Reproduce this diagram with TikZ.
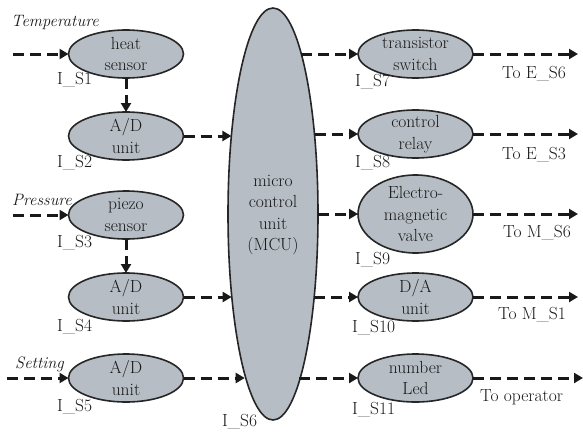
\documentclass[tikz,border=0pt]{standalone}
\usepackage{fontspec}
\usetikzlibrary{arrows.meta,shapes.geometric}
\definecolor{fillg}{RGB}{182,189,196}
\definecolor{txt}{RGB}{25,25,25}
\begin{document}
\begin{tikzpicture}[x=1pt,y=-1pt,
  unitbox/.style={ellipse,draw=black!85,line width=1.6pt,fill=fillg,minimum width=115pt,minimum height=48pt,inner sep=0pt,outer sep=0pt},
  intext/.style={align=center,font=\rmfamily\fontsize{17.5}{21.5}\selectfont,text=txt,inner sep=0pt},
  idlbl/.style={anchor=west,font=\rmfamily\fontsize{17.5}{21.5}\selectfont,text=txt,inner sep=0pt},
  sig/.style={font=\rmfamily\itshape\fontsize{16.5}{20}\selectfont,text=txt,anchor=west,inner sep=0pt},
  flow/.style={draw=black!90,line width=3pt,dash pattern=on 11pt off 6pt,-{Triangle[length=9pt,width=10pt]}},
]
\useasboundingbox (0,0) rectangle (583,431);

% MCU
\node[ellipse,draw=black!85,line width=1.6pt,fill=fillg,minimum width=90pt,minimum height=412pt,inner sep=0pt,outer sep=0pt] (mcu) at (273,214) {};
\node[intext,align=center] (mcut) at (273,215) {micro\\control\\unit\\(MCU)};

% left column
\node[unitbox] (s1) at (126,54) {};
\node[intext] (s1t) at (s1) {heat\\sensor};
\node[unitbox] (s2) at (126,136) {};
\node[intext] (s2t) at (s2) {A/D\\unit};
\node[unitbox] (s3) at (126,215) {};
\node[intext] (s3t) at (s3) {piezo\\sensor};
\node[unitbox] (s4) at (126,297) {};
\node[intext] (s4t) at (s4) {A/D\\unit};
\node[unitbox] (s5) at (126,378) {};
\node[intext] (s5t) at (s5) {A/D\\unit};

% right column
\node[unitbox] (s7) at (415.5,54) {};
\node[intext] (s7t) at (s7) {transistor\\switch};
\node[unitbox] (s8) at (415.5,134) {};
\node[intext] (s8t) at (s8) {control\\relay};
\node[unitbox,minimum height=78pt] (s9) at (415.5,214) {};
\node[intext] (s9t) at (s9) {Electro-\\magnetic\\valve};
\node[unitbox] (s10) at (415.5,297) {};
\node[intext] (s10t) at (s10) {D/A\\unit};
\node[unitbox] (s11) at (415.5,378) {};
\node[intext] (s11t) at (s11) {number\\Led};

% signal labels
\node[sig] (lt) at (11,23) {Temperature};
\node[sig] (lp) at (12,200) {Pressure};
\node[sig] (ls) at (15,364) {Setting};

% id labels
\node[idlbl] (l1) at (57,80) {I\_S1};
\node[idlbl] (l2) at (57,163) {I\_S2};
\node[idlbl] (l3) at (57,243) {I\_S3};
\node[idlbl] (l4) at (57,327) {I\_S4};
\node[idlbl] (l5) at (57,407) {I\_S5};
\node[idlbl] (l6) at (222,422) {I\_S6};
\node[idlbl] (l7) at (355,82) {I\_S7};
\node[idlbl] (l8) at (355,163) {I\_S8};
\node[idlbl] (l9) at (355,260) {I\_S9};
\node[idlbl] (l10) at (352,328) {I\_S10};
\node[idlbl] (l11) at (352,410) {I\_S11};

% output labels
\node[idlbl] (o1t) at (502,74) {To E\_S6};
\node[idlbl] (o2t) at (502,155) {To E\_S3};
\node[idlbl] (o3t) at (503,233) {To M\_S6};
\node[idlbl] (o4t) at (498,315) {To M\_S1};
\node[idlbl] (o5t) at (480,397) {To operator};

% free ends
\coordinate (i1) at (13,54);
\coordinate (i3) at (13,215);
\coordinate (i5) at (7,378);
\coordinate (o1) at (578,54);
\coordinate (o2) at (578,134);
\coordinate (o3) at (578,214);
\coordinate (o4) at (578,297);
\coordinate (o5) at (583,378);

% inputs
\draw[flow] (i1) -- (s1.west);
\draw[flow] (i3) -- (s3.west);
\draw[flow] (i5) -- (s5.west);
\draw[flow] (s1.south) -- (s2.north);
\draw[flow] (s3.south) -- (s4.north);

% into MCU
\draw[flow] (s2.east) -- (mcu.118.1 |- s2.east);
\draw[flow] (s4.east) -- (mcu.243.6 |- s4.east);
\draw[flow] (s5.east) -- (mcu.260.6 |- s5.east);

% out of MCU
\draw[flow] (mcu.80 |- s7.west) -- (s7.west);
\draw[flow] (mcu.62.6 |- s8.west) -- (s8.west);
\draw[flow] (mcu.0 |- s9.west) -- (s9.west);
\draw[flow] (mcu.296.4 |- s10.west) -- (s10.west);
\draw[flow] (mcu.279.4 |- s11.west) -- (s11.west);

% outputs
\draw[flow] (s7.east) -- (o1);
\draw[flow] (s8.east) -- (o2);
\draw[flow] (s9.east) -- (o3);
\draw[flow] (s10.east) -- (o4);
\draw[flow] (s11.east) -- (o5);
\end{tikzpicture}
\end{document}
